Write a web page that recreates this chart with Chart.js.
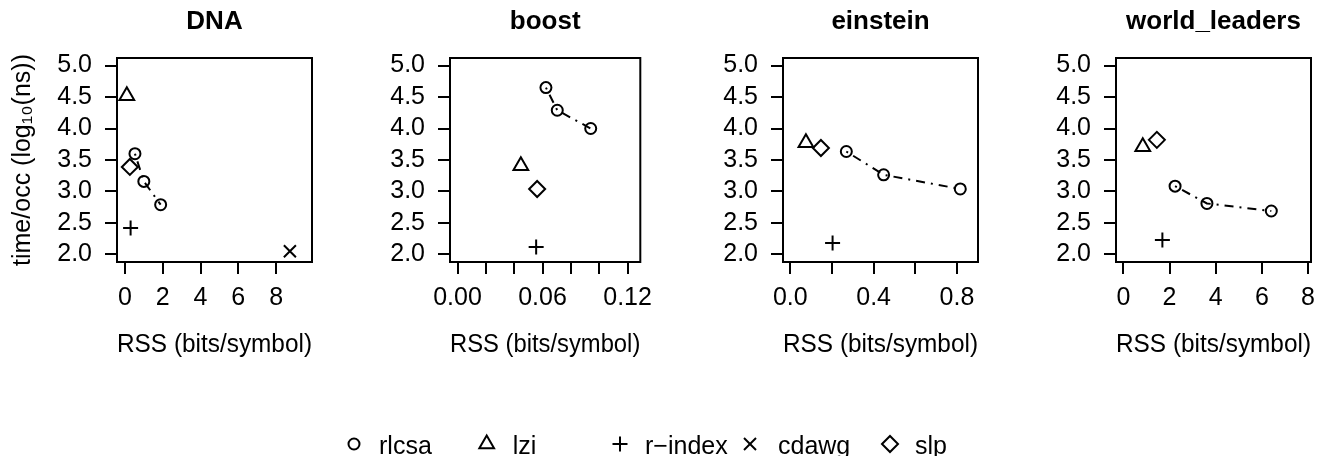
<!DOCTYPE html>
<html><head><meta charset="utf-8">
<script src="https://cdn.jsdelivr.net/npm/chart.js@4/dist/chart.umd.min.js"></script>
<style>
html,body{margin:0;padding:0;background:#fff;overflow:hidden;width:1320px;height:456px;position:relative;}
canvas.panel{position:absolute;top:0;}
#legend{position:absolute;left:0;top:0;}
</style></head><body>
<canvas id="c0" class="panel" width="330" height="380" style="left:0px"></canvas>
<canvas id="c1" class="panel" width="330" height="380" style="left:333px"></canvas>
<canvas id="c2" class="panel" width="330" height="380" style="left:666px"></canvas>
<canvas id="c3" class="panel" width="330" height="380" style="left:999px"></canvas>
<svg id="legend" width="1320" height="456" xmlns="http://www.w3.org/2000/svg"></svg>
<script>
// ---------- data ----------
const panelTitles = ['DNA', 'boost', 'einstein', 'world_leaders'];
const xAxisTitle = 'RSS (bits/symbol)';
const yAxisTitle = 'time/occ (log\u2081\u2080(ns))';

const yTickValues = [2.0, 2.5, 3.0, 3.5, 4.0, 4.5, 5.0];
const yTickLabels = ['2.0', '2.5', '3.0', '3.5', '4.0', '4.5', '5.0'];
const yLimits = [1.88, 5.12];

const xTickValuesDNA = [0, 2, 4, 6, 8];
const xTickLabelsDNA = ['0', '2', '4', '6', '8'];
const xTickValuesBoost = [0, 0.02, 0.04, 0.06, 0.08, 0.10, 0.12];
const xTickLabelsBoost = ['0.00', '', '', '0.06', '', '', '0.12'];
const xTickValuesEinstein = [0, 0.2, 0.4, 0.6, 0.8];
const xTickLabelsEinstein = ['0.0', '', '0.4', '', '0.8'];
const xTickValuesWorld = [0, 2, 4, 6, 8];
const xTickLabelsWorld = ['0', '2', '4', '6', '8'];

const xLimitsDNA = [-0.42, 9.9];
const xLimitsBoost = [-0.0053, 0.129];
const xLimitsEinstein = [-0.035, 0.901];
const xLimitsWorld = [-0.32, 8.13];

// rlcsa (three points per dataset, joined)
const rlcsaX_DNA = [0.53, 1.00, 1.89];
const rlcsaY_DNA = [3.60, 3.16, 2.79];
const rlcsaX_boost = [0.0624, 0.0704, 0.0940];
const rlcsaY_boost = [4.65, 4.29, 4.00];
const rlcsaX_einstein = [0.269, 0.448, 0.816];
const rlcsaY_einstein = [3.635, 3.265, 3.04];
const rlcsaX_world = [2.24, 3.62, 6.41];
const rlcsaY_world = [3.085, 2.81, 2.69];

// one point per panel (DNA, boost, einstein, world_leaders)
const lziX = [0.10, 0.0447, 0.075, 0.84];
const lziY = [4.52, 3.41, 3.775, 3.71];
const rindexX = [0.30, 0.0555, 0.203, 1.69];
const rindexY = [2.42, 2.12, 2.18, 2.23];
const cdawgX = [8.73, null, null, null];
const cdawgY = [2.05, null, null, null];
const slpX = [0.26, 0.0562, 0.147, 1.45];
const slpY = [3.39, 3.04, 3.69, 3.82];

const legendLabels = ['rlcsa', 'lzi', 'r\u2212index', 'cdawg', 'slp'];

// ---------- build ----------
const FONT = "'Liberation Sans', Arial, Helvetica, sans-serif";
Chart.defaults.font.family = FONT;
Chart.defaults.color = '#000';

const rlcsaXs = [rlcsaX_DNA, rlcsaX_boost, rlcsaX_einstein, rlcsaX_world];
const rlcsaYs = [rlcsaY_DNA, rlcsaY_boost, rlcsaY_einstein, rlcsaY_world];
const xTickVals = [xTickValuesDNA, xTickValuesBoost, xTickValuesEinstein, xTickValuesWorld];
const xTickLabs = [xTickLabelsDNA, xTickLabelsBoost, xTickLabelsEinstein, xTickLabelsWorld];
const xLims = [xLimitsDNA, xLimitsBoost, xLimitsEinstein, xLimitsWorld];

function pts(xs, ys) {
  const out = [];
  for (let i = 0; i < xs.length; i++) if (xs[i] !== null && ys[i] !== null) out.push({x: xs[i], y: ys[i]});
  return out;
}
function single(xs, ys, i) { return (xs[i] === null) ? [] : [{x: xs[i], y: ys[i]}]; }
function labelFor(vals, labs, v) {
  for (let i = 0; i < vals.length; i++) if (Math.abs(vals[i] - v) < 1e-9) return labs[i];
  return '';
}

const framePlugin = {
  id: 'frame',
  afterDraw(chart) {
    const {ctx, chartArea: a} = chart;
    ctx.save();
    ctx.strokeStyle = '#000';
    ctx.lineWidth = 2;
    ctx.strokeRect(a.left, a.top, a.right - a.left, a.bottom - a.top);
    ctx.restore();
  }
};

const pointCommon = {
  pointBorderColor: '#000',
  pointBackgroundColor: 'rgba(0,0,0,0)',
  pointBorderWidth: 2,
  pointHoverRadius: 0,
  showLine: false
};

for (let p = 0; p < 4; p++) {
  const ctx = document.getElementById('c' + p).getContext('2d');
  new Chart(ctx, {
    type: 'scatter',
    data: {
      datasets: [
        Object.assign({}, pointCommon, {
          label: legendLabels[0], data: pts(rlcsaXs[p], rlcsaYs[p]), showLine: true,
          borderColor: '#000', borderWidth: 2, borderDash: [2, 6, 9, 6],
          pointStyle: 'circle', pointRadius: 5.5
        }),
        Object.assign({}, pointCommon, {label: legendLabels[1], data: single(lziX, lziY, p), pointStyle: 'triangle', pointRadius: 8.5}),
        Object.assign({}, pointCommon, {label: legendLabels[2], data: single(rindexX, rindexY, p), pointStyle: 'cross', pointRadius: 7.5}),
        Object.assign({}, pointCommon, {label: legendLabels[3], data: single(cdawgX, cdawgY, p), pointStyle: 'crossRot', pointRadius: 8.5}),
        Object.assign({}, pointCommon, {label: legendLabels[4], data: single(slpX, slpY, p), pointStyle: 'rectRot', pointRadius: 8})
      ]
    },
    options: {
      responsive: false,
      animation: false,
      events: [],
      layout: {padding: {left: 0, right: 18, top: 0, bottom: 20}},
      plugins: {
        legend: {display: false},
        tooltip: {enabled: false},
        title: {
          display: true, text: panelTitles[p], fullSize: false, color: '#000',
          font: {size: 26, weight: 'bold', family: FONT, lineHeight: 1.2},
          padding: {top: 6, bottom: 20.8}
        }
      },
      scales: {
        x: {
          type: 'linear', position: 'bottom',
          min: xLims[p][0], max: xLims[p][1],
          afterBuildTicks: s => { s.ticks = xTickVals[p].map(v => ({value: v})); },
          afterFit: s => { s.height = 98; },
          ticks: {
            autoSkip: false, maxRotation: 0, minRotation: 0, color: '#000',
            font: {size: 25, family: FONT, lineHeight: 1.2}, padding: 9.6,
            callback: v => labelFor(xTickVals[p], xTickLabs[p], v)
          },
          grid: {drawOnChartArea: false, drawTicks: true, tickLength: 12, color: '#000', lineWidth: 2},
          border: {display: false},
          title: {display: true, text: xAxisTitle, color: '#000', font: {size: 25, family: FONT, lineHeight: 1.2}, padding: 0}
        },
        y: {
          type: 'linear', position: 'left',
          min: yLimits[0], max: yLimits[1],
          afterBuildTicks: s => { s.ticks = yTickValues.map(v => ({value: v})); },
          afterFit: s => { s.width = 117; },
          ticks: {
            autoSkip: false, color: '#000',
            font: {size: 25, family: FONT, lineHeight: 1.2}, padding: 13,
            callback: v => labelFor(yTickValues, yTickLabels, v)
          },
          grid: {drawOnChartArea: false, drawTicks: true, tickLength: 12, color: '#000', lineWidth: 2},
          border: {display: false},
          title: {display: p === 0, text: yAxisTitle, color: '#000', font: {size: 25, family: FONT, lineHeight: 1.2}, padding: {top: 7.7, bottom: 0}}
        }
      }
    },
    plugins: [framePlugin]
  });
}

// ---------- legend ----------
const NS = 'http://www.w3.org/2000/svg';
const svg = document.getElementById('legend');
const legSymX = [354, 486.7, 620, 750, 890];
const legTextX = [379, 512.7, 645, 778, 915];
const legSymY = 444, legTextY = 454;
function el(name, attrs) {
  const e = document.createElementNS(NS, name);
  for (const k in attrs) e.setAttribute(k, attrs[k]);
  svg.appendChild(e); return e;
}
const st = {stroke: '#000', 'stroke-width': 2, fill: 'none'};
legendLabels.forEach((lab, i) => {
  const x = legSymX[i], y = legSymY;
  if (i === 0) el('circle', Object.assign({cx: x, cy: y, r: 5.5}, st));
  if (i === 1) el('polygon', Object.assign({points: `${x},${y-8.5} ${x+7.36},${y+4.25} ${x-7.36},${y+4.25}`}, st));
  if (i === 2) { el('line', Object.assign({x1: x-7.5, y1: y, x2: x+7.5, y2: y}, st)); el('line', Object.assign({x1: x, y1: y-7.5, x2: x, y2: y+7.5}, st)); }
  if (i === 3) { const d = 6; el('line', Object.assign({x1: x-d, y1: y-d, x2: x+d, y2: y+d}, st)); el('line', Object.assign({x1: x-d, y1: y+d, x2: x+d, y2: y-d}, st)); }
  if (i === 4) el('polygon', Object.assign({points: `${x-8},${y} ${x},${y-8} ${x+8},${y} ${x},${y+8}`}, st));
  const t = el('text', {x: legTextX[i], y: legTextY, 'font-family': FONT, 'font-size': 25, fill: '#000'});
  t.textContent = lab;
});
</script>
</body></html>
